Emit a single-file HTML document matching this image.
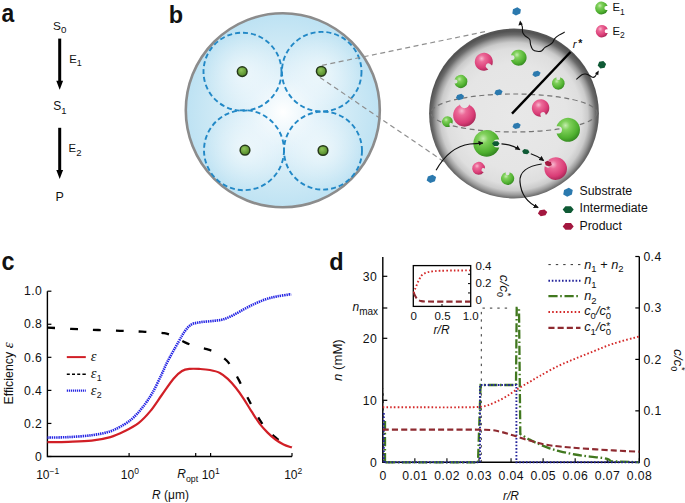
<!DOCTYPE html>
<html><head><meta charset="utf-8"><style>
html,body{margin:0;padding:0;background:#fff;width:685px;height:503px;overflow:hidden;}
svg{display:block;font-family:"Liberation Sans",sans-serif;}

</style></head><body>
<svg width="685" height="503" viewBox="0 0 685 503" font-family="Liberation Sans" fill="#111">
<defs>
 <radialGradient id="gBlue" cx="283" cy="112" r="98" gradientUnits="userSpaceOnUse">
  <stop offset="0" stop-color="#ffffff"/>
  <stop offset="0.35" stop-color="#e2f2fa"/>
  <stop offset="0.75" stop-color="#cbe8f5"/>
  <stop offset="1" stop-color="#bde2f3"/>
 </radialGradient>
 <radialGradient id="gCell">
  <stop offset="0" stop-color="#ffffff" stop-opacity="0.55"/>
  <stop offset="1" stop-color="#ffffff" stop-opacity="0"/>
 </radialGradient>
 <radialGradient id="gSphere" cx="514" cy="116.5" r="88" gradientUnits="userSpaceOnUse">
  <stop offset="0" stop-color="#e8e8e8"/>
  <stop offset="0.6" stop-color="#e5e5e5"/>
  <stop offset="0.77" stop-color="#dedede"/>
  <stop offset="0.84" stop-color="#cbcbcb"/>
  <stop offset="0.89" stop-color="#9c9c9c"/>
  <stop offset="0.93" stop-color="#6a6a6a"/>
  <stop offset="0.97" stop-color="#525252"/>
  <stop offset="1" stop-color="#575757"/>
 </radialGradient>
 <radialGradient id="gGreen" cx="0.38" cy="0.32" r="0.75">
  <stop offset="0" stop-color="#c6ecb0"/>
  <stop offset="0.25" stop-color="#7fd05a"/>
  <stop offset="0.7" stop-color="#4fb02f"/>
  <stop offset="1" stop-color="#2e7d1e"/>
 </radialGradient>
 <radialGradient id="gPink" cx="0.38" cy="0.32" r="0.75">
  <stop offset="0" stop-color="#f7b9cf"/>
  <stop offset="0.25" stop-color="#ec6a98"/>
  <stop offset="0.7" stop-color="#d93c76"/>
  <stop offset="1" stop-color="#9c2350"/>
 </radialGradient>
 <radialGradient id="gDot" cx="0.4" cy="0.35" r="0.7">
  <stop offset="0" stop-color="#8fc45a"/>
  <stop offset="1" stop-color="#4c8424"/>
 </radialGradient>
 <marker id="ah" viewBox="0 0 10 10" refX="9" refY="5" markerWidth="5" markerHeight="5" orient="auto-start-reverse" markerUnits="userSpaceOnUse">
  <path d="M0,0 L10,5 L0,10 z" fill="#111"/>
 </marker>
</defs>
<text transform="translate(1.6,22) scale(0.88,1)" font-size="26" font-weight="bold">a</text>
<text x="53" y="29.8" font-size="11.8" text-anchor="start" >S<tspan font-size="9.8" dy="3.6">0</tspan></text>
<text x="69.2" y="62.8" font-size="11.3" text-anchor="start" >E<tspan font-size="9" dy="3.6">1</tspan></text>
<text x="53.2" y="109.7" font-size="12" text-anchor="start" >S<tspan font-size="9.5" dy="4.2">1</tspan></text>
<text x="68.6" y="152.4" font-size="11.3" text-anchor="start" >E<tspan font-size="9.5" dy="3.6">2</tspan></text>
<text x="55.6" y="201.3" font-size="12.5" text-anchor="start" >P</text>
<line x1="59.7" y1="38.6" x2="59.7" y2="81.7" stroke="#000" stroke-width="3"/>
<path d="M56.3,80.7 L63.1,80.7 L59.7,89.7 z" fill="#000"/>
<line x1="59.7" y1="127.8" x2="59.7" y2="171" stroke="#000" stroke-width="3"/>
<path d="M56.3,170 L63.1,170 L59.7,179 z" fill="#000"/>
<text x="168.7" y="22.7" font-size="23.5" text-anchor="start" font-weight="bold">b</text>
<circle cx="282.8" cy="110.3" r="97" fill="url(#gBlue)" stroke="#8c8c8c" stroke-width="2.6"/>
<circle cx="242.5" cy="71.7" r="39" fill="url(#gCell)"/>
<circle cx="321.7" cy="71.7" r="39.8" fill="url(#gCell)"/>
<circle cx="244" cy="150.2" r="40" fill="url(#gCell)"/>
<circle cx="323" cy="150.6" r="39" fill="url(#gCell)"/>
<circle cx="242.5" cy="71.7" r="39" fill="none" stroke="#2288c6" stroke-width="1.9" stroke-dasharray="5 3"/>
<circle cx="321.7" cy="71.7" r="39.8" fill="none" stroke="#2288c6" stroke-width="1.9" stroke-dasharray="5 3"/>
<circle cx="244" cy="150.2" r="40" fill="none" stroke="#2288c6" stroke-width="1.9" stroke-dasharray="5 3"/>
<circle cx="323" cy="150.6" r="39" fill="none" stroke="#2288c6" stroke-width="1.9" stroke-dasharray="5 3"/>
<circle cx="242.2" cy="71.6" r="4.85" fill="url(#gDot)" stroke="#25381a" stroke-width="1.5"/>
<circle cx="321.3" cy="71.3" r="4.85" fill="url(#gDot)" stroke="#25381a" stroke-width="1.5"/>
<circle cx="245" cy="150.2" r="4.85" fill="url(#gDot)" stroke="#25381a" stroke-width="1.5"/>
<circle cx="323" cy="150.5" r="4.85" fill="url(#gDot)" stroke="#25381a" stroke-width="1.5"/>
<line x1="322" y1="65.4" x2="485.5" y2="31.5" stroke="#8f8f8f" stroke-width="1.2" stroke-dasharray="5 3.5"/>
<line x1="320" y1="77.5" x2="446" y2="163" stroke="#8f8f8f" stroke-width="1.2" stroke-dasharray="5 3.5"/>
<circle cx="514" cy="113.5" r="84.9" fill="url(#gSphere)"/>
<ellipse cx="514" cy="113" rx="83" ry="19" fill="none" stroke="#747474" stroke-width="1.2" stroke-dasharray="5 3.5"/>
<path d="M464.25,97.00 L462.12,99.68 L457.88,99.68 L455.75,97.00 L457.88,94.32 L462.12,94.32 z" fill="#2b79ae" transform="rotate(-15 460 97)"/>
<path d="M502.75,92.30 L500.62,94.98 L496.38,94.98 L494.25,92.30 L496.38,89.62 L500.62,89.62 z" fill="#2b79ae" transform="rotate(-15 498.5 92.3)"/>
<path d="M540.75,73.80 L538.62,76.48 L534.38,76.48 L532.25,73.80 L534.38,71.12 L538.62,71.12 z" fill="#2b79ae" transform="rotate(-15 536.5 73.8)"/>
<path d="M520.85,125.90 L518.73,128.58 L514.48,128.58 L512.35,125.90 L514.48,123.22 L518.73,123.22 z" fill="#2b79ae" transform="rotate(-15 516.6 125.9)"/>
<path d="M491.99,65.54 A9,9 0 1 0 488.37,69.55 L486.54,67.90 A2.70,2.70 0 0 1 490.15,63.89 Z" fill="url(#gPink)"/>
<path d="M454.50,83.48 A6.6,6.6 0 1 0 454.50,79.52 L455.52,79.52 A1.98,1.98 0 0 1 455.52,83.48 Z" fill="url(#gGreen)"/>
<path d="M459.71,104.95 A11.4,11.4 0 1 0 469.29,104.95 L469.29,103.44 A4.79,4.79 0 0 1 459.71,103.44 Z" fill="url(#gPink)"/>
<path d="M510.97,60.10 A8,8 0 1 0 510.97,55.30 L512.20,55.30 A2.40,2.40 0 0 1 512.20,60.10 Z" fill="url(#gGreen)"/>
<path d="M556.38,77.19 A6.4,6.4 0 1 0 560.22,77.19 L560.22,78.18 A1.92,1.92 0 0 1 556.38,78.18 Z" fill="url(#gGreen)"/>
<path d="M545.89,114.91 A8.7,8.7 0 1 0 540.99,116.69 L540.53,115.43 A2.61,2.61 0 0 1 545.43,113.65 Z" fill="url(#gPink)"/>
<path d="M452.39,123.77 A5.4,5.4 0 1 0 450.30,126.25 L449.67,125.72 A1.62,1.62 0 0 1 451.75,123.24 Z" fill="url(#gGreen)"/>
<path d="M556.55,133.40 A12,12 0 1 0 556.55,126.20 L558.40,126.20 A3.60,3.60 0 0 1 558.40,133.40 Z" fill="url(#gGreen)"/>
<path d="M499.29,139.41 A13.3,13.3 0 1 0 499.29,147.39 L497.24,147.39 A3.99,3.99 0 0 1 497.24,139.41 Z" fill="url(#gGreen)"/>
<path d="M484.99,168.58 A6.4,6.4 0 1 0 483.68,172.19 L482.75,171.86 A1.92,1.92 0 0 1 484.07,168.25 Z" fill="url(#gPink)"/>
<path d="M505.62,172.20 A6.6,6.6 0 1 0 509.58,172.20 L509.58,173.22 A1.98,1.98 0 0 1 505.62,173.22 Z" fill="url(#gGreen)"/>
<path d="M544.67,166.15 A11.3,11.3 0 1 0 548.06,160.27 L549.57,161.14 A3.39,3.39 0 0 1 546.18,167.02 Z" fill="url(#gPink)"/>
<path d="M499.55,143.60 L497.68,145.98 L493.93,145.98 L492.05,143.60 L493.93,141.22 L497.68,141.22 z" fill="#0f5a35" transform="rotate(0 495.8 143.6)"/>
<path d="M529.55,151.70 L527.67,154.08 L523.92,154.08 L522.05,151.70 L523.92,149.32 L527.67,149.32 z" fill="#0f5a35" transform="rotate(10 525.8 151.7)"/>
<path d="M552.05,163.60 L550.17,165.98 L546.42,165.98 L544.55,163.60 L546.42,161.22 L550.17,161.22 z" fill="#a3173f" transform="rotate(20 548.3 163.6)"/>
<line x1="512" y1="113.7" x2="570.5" y2="52" stroke="#000" stroke-width="2.4"/>
<text x="572.8" y="47.6" font-size="11.5" font-style="italic">r</text>
<text x="578.2" y="46.9" font-size="10.5" font-weight="bold">*</text>
<path d="M521.35,11.40 L518.98,14.86 L514.23,14.86 L511.85,11.40 L514.23,7.94 L518.98,7.94 z" fill="#2b79ae" transform="rotate(-25 516.6 11.4)"/>
<path d="M436.40,178.80 L433.90,182.26 L428.90,182.26 L426.40,178.80 L428.90,175.34 L433.90,175.34 z" fill="#2b79ae" transform="rotate(-20 431.4 178.8)"/>
<path d="M606.15,64.80 L604.02,68.18 L599.77,68.18 L597.65,64.80 L599.77,61.42 L604.02,61.42 z" fill="#0f5a35" transform="rotate(-10 601.9 64.8)"/>
<path d="M547.35,212.80 L544.98,215.83 L540.23,215.83 L537.85,212.80 L540.23,209.77 L544.98,209.77 z" fill="#a3173f" transform="rotate(-10 542.6 212.8)"/>
<path d="M520.60,23.50 C520.88,24.02 521.95,25.10 522.30,26.60 C522.65,28.10 522.20,30.93 522.70,32.50 C523.20,34.07 524.13,34.83 525.30,36.00 C526.47,37.17 528.82,38.03 529.70,39.50 C530.58,40.97 530.08,43.12 530.60,44.80 C531.12,46.48 531.72,48.52 532.80,49.60 C533.88,50.68 535.65,51.08 537.10,51.30 C538.55,51.52 540.18,51.55 541.50,50.90 C542.82,50.25 543.62,48.42 545.00,47.40 C546.38,46.38 548.48,45.68 549.80,44.80 C551.12,43.92 552.08,43.13 552.90,42.10 C553.72,41.07 553.68,39.77 554.70,38.60 C555.72,37.43 557.33,36.18 559.00,35.10 C560.67,34.02 563.75,32.60 564.70,32.10" fill="none" stroke="#111" stroke-width="1.1"/>
<path d="M520.1,20.6 L518.4,25.4 L522.8,24.6 z" fill="#111"/>
<path d="M576.30,79.40 C577.23,78.62 580.37,75.60 581.90,74.70 C583.43,73.80 584.30,73.90 585.50,74.00 C586.70,74.10 587.92,74.75 589.10,75.30 C590.28,75.85 591.62,77.10 592.60,77.30 C593.58,77.50 594.32,77.13 595.00,76.50 C595.68,75.87 596.42,74.00 596.70,73.50" fill="none" stroke="#111" stroke-width="1.1"/>
<path d="M598.8,70.6 L595,73.2 L598.2,75.2 z" fill="#111"/>
<path d="M436.1,170.3 C444,156 456,146 470,144 C475,143.5 479,143.3 483,143.1" fill="none" stroke="#111" stroke-width="1.2" marker-end="url(#ah)"/>
<path d="M501.5,143.8 C508,144 514,146 519.9,149.7" fill="none" stroke="#111" stroke-width="1.2" marker-end="url(#ah)"/>
<path d="M530.8,153.7 C535,155 539,157 543.7,160.6" fill="none" stroke="#111" stroke-width="1.2" marker-end="url(#ah)"/>
<path d="M541.7,164 C528,166 519,172 520,182 C521,195 528,203 538.2,207.6" fill="none" stroke="#111" stroke-width="1.2" marker-end="url(#ah)"/>
<path d="M607.61,6.08 A6.4,6.4 0 1 0 607.61,9.92 L606.30,9.92 A1.92,1.92 0 0 1 606.30,6.08 Z" fill="url(#gGreen)"/>
<path d="M607.81,29.34 A6.2,6.2 0 1 0 607.81,33.06 L606.55,33.06 A1.86,1.86 0 0 1 606.55,29.34 Z" fill="url(#gPink)"/>
<text x="612.5" y="11" font-size="11.3" text-anchor="start" >E<tspan font-size="8.5" dy="3.5">1</tspan></text>
<text x="612.5" y="34.7" font-size="11.3" text-anchor="start" >E<tspan font-size="8.5" dy="3.5">2</tspan></text>
<path d="M573.25,192.30 L570.62,195.98 L565.38,195.98 L562.75,192.30 L565.38,188.62 L570.62,188.62 z" fill="#2b79ae" transform="rotate(-25 568 192.3)"/>
<path d="M573.70,209.60 L570.95,213.06 L565.45,213.06 L562.70,209.60 L565.45,206.14 L570.95,206.14 z" fill="#0f5a35" transform="rotate(0 568.2 209.6)"/>
<path d="M573.70,226.40 L570.95,229.86 L565.45,229.86 L562.70,226.40 L565.45,222.94 L570.95,222.94 z" fill="#a3173f" transform="rotate(0 568.2 226.4)"/>
<text x="579.5" y="195.2" font-size="12.3" text-anchor="start" >Substrate</text>
<text x="579.5" y="212.4" font-size="12.3" text-anchor="start" >Intermediate</text>
<text x="579.5" y="230" font-size="12.3" text-anchor="start" >Product</text>
<text transform="translate(1.6,270) scale(0.9,1)" font-size="26" font-weight="bold">c</text>
<path d="M47.4,291.2 L47.4,456.5 L292,456.5" fill="none" stroke="#000" stroke-width="1.4"/>
<line x1="47.4" y1="456.50" x2="51.4" y2="456.50" stroke="#000" stroke-width="1.2"/>
<text x="42.3" y="460.70" font-size="12.2" text-anchor="end" letter-spacing="0.45">0</text>
<line x1="47.4" y1="423.44" x2="51.4" y2="423.44" stroke="#000" stroke-width="1.2"/>
<text x="42.3" y="427.64" font-size="12.2" text-anchor="end" letter-spacing="0.45">0.2</text>
<line x1="47.4" y1="390.38" x2="51.4" y2="390.38" stroke="#000" stroke-width="1.2"/>
<text x="42.3" y="394.58" font-size="12.2" text-anchor="end" letter-spacing="0.45">0.4</text>
<line x1="47.4" y1="357.32" x2="51.4" y2="357.32" stroke="#000" stroke-width="1.2"/>
<text x="42.3" y="361.52" font-size="12.2" text-anchor="end" letter-spacing="0.45">0.6</text>
<line x1="47.4" y1="324.26" x2="51.4" y2="324.26" stroke="#000" stroke-width="1.2"/>
<text x="42.3" y="328.46" font-size="12.2" text-anchor="end" letter-spacing="0.45">0.8</text>
<line x1="47.4" y1="291.20" x2="51.4" y2="291.20" stroke="#000" stroke-width="1.2"/>
<text x="42.3" y="295.40" font-size="12.2" text-anchor="end" letter-spacing="0.45">1.0</text>
<line x1="129.1" y1="456.5" x2="129.1" y2="453.0" stroke="#000" stroke-width="1.2"/>
<line x1="195.7" y1="456.5" x2="195.7" y2="453.0" stroke="#000" stroke-width="1.2"/>
<line x1="210.6" y1="456.5" x2="210.6" y2="453.0" stroke="#000" stroke-width="1.2"/>
<line x1="292" y1="456.5" x2="292" y2="453.0" stroke="#000" stroke-width="1.2"/>
<text x="36.2" y="479" font-size="12">10<tspan font-size="8.5" dy="-5.5">−1</tspan></text>
<text x="120.8" y="479" font-size="12">10<tspan font-size="8.5" dy="-5.5">0</tspan></text>
<text x="201.7" y="479" font-size="12">10<tspan font-size="8.5" dy="-5.5">1</tspan></text>
<text x="284.2" y="479" font-size="12">10<tspan font-size="8.5" dy="-5.5">2</tspan></text>
<text x="177.3" y="478.3" font-size="12" font-style="italic">R<tspan font-style="normal" font-size="8.8" dy="3.6">opt</tspan></text>
<text x="152" y="498.6" font-size="12"><tspan font-style="italic">R</tspan> (μm)</text>
<text transform="translate(12.9,404.6) rotate(-90)" font-size="12.4">Efficiency <tspan font-family="Liberation Serif" font-style="italic" font-size="15">ε</tspan></text>
<path d="M47.40,327.60 C52.83,327.88 67.90,328.77 80.00,329.30 C92.10,329.83 109.17,330.38 120.00,330.80 C130.83,331.22 137.63,331.40 145.00,331.80 C152.37,332.20 159.20,332.33 164.20,333.20 C169.20,334.07 171.53,335.47 175.00,337.00 C178.47,338.53 181.50,340.82 185.00,342.40 C188.50,343.98 192.35,345.37 196.00,346.50 C199.65,347.63 203.40,348.12 206.90,349.20 C210.40,350.28 213.72,351.12 217.00,353.00 C220.28,354.88 224.10,358.00 226.60,360.50 C229.10,363.00 229.97,364.77 232.00,368.00 C234.03,371.23 236.02,374.60 238.80,379.90 C241.58,385.20 245.23,393.18 248.70,399.80 C252.17,406.42 256.55,414.65 259.60,419.60 C262.65,424.55 264.35,426.52 267.00,429.50 C269.65,432.48 272.75,435.17 275.50,437.50 C278.25,439.83 280.78,441.92 283.50,443.50 C286.22,445.08 290.42,446.42 291.80,447.00" fill="none" stroke="#000" stroke-width="2.3" stroke-dasharray="7.8 15"/>
<path d="M47.40,442.20 C50.90,442.13 61.02,442.07 68.40,441.80 C75.78,441.53 84.70,441.38 91.70,440.60 C98.70,439.82 104.95,438.65 110.40,437.10 C115.85,435.55 119.72,433.63 124.40,431.30 C129.08,428.97 134.22,426.42 138.50,423.10 C142.78,419.78 146.22,416.08 150.10,411.40 C153.98,406.72 157.90,400.45 161.80,395.00 C165.70,389.55 170.13,382.70 173.50,378.70 C176.87,374.70 179.27,372.63 182.00,371.00 C184.73,369.37 186.90,369.23 189.90,368.90 C192.90,368.57 196.67,368.82 200.00,369.00 C203.33,369.18 206.58,369.35 209.90,370.00 C213.22,370.65 216.92,371.42 219.90,372.90 C222.88,374.38 225.15,376.42 227.80,378.90 C230.45,381.38 233.15,384.48 235.80,387.80 C238.45,391.12 241.05,394.82 243.70,398.80 C246.35,402.78 249.05,407.57 251.70,411.70 C254.35,415.83 256.95,420.12 259.60,423.60 C262.25,427.08 264.95,429.95 267.60,432.60 C270.25,435.25 272.85,437.52 275.50,439.50 C278.15,441.48 280.78,443.17 283.50,444.50 C286.22,445.83 290.42,447.00 291.80,447.50" fill="none" stroke="#d11f26" stroke-width="2.2"/>
<path d="M47.40,437.60 C50.90,437.52 61.02,437.50 68.40,437.10 C75.78,436.70 84.70,436.17 91.70,435.20 C98.70,434.23 104.95,433.12 110.40,431.30 C115.85,429.48 120.50,426.65 124.40,424.30 C128.30,421.95 130.68,420.13 133.80,417.20 C136.92,414.27 139.98,410.78 143.10,406.70 C146.22,402.62 149.38,398.15 152.50,392.70 C155.62,387.25 159.30,379.18 161.80,374.00 C164.30,368.82 164.72,366.95 167.50,361.60 C170.28,356.25 175.58,347.00 178.50,341.90 C181.42,336.80 182.82,333.92 185.00,331.00 C187.18,328.08 189.03,325.87 191.60,324.40 C194.17,322.93 197.12,322.75 200.40,322.20 C203.68,321.65 207.65,321.53 211.30,321.10 C214.95,320.67 218.65,320.58 222.30,319.60 C225.95,318.62 229.55,316.95 233.20,315.20 C236.85,313.45 240.55,311.03 244.20,309.10 C247.85,307.17 251.47,305.25 255.10,303.60 C258.73,301.95 262.35,300.40 266.00,299.20 C269.65,298.00 272.80,297.23 277.00,296.40 C281.20,295.57 288.83,294.57 291.20,294.20" fill="none" stroke="#2424e4" stroke-width="2.6" stroke-dasharray="1.4 0.8"/>
<line x1="66.8" y1="357.1" x2="85.8" y2="357.1" stroke="#d11f26" stroke-width="2"/>
<line x1="66.8" y1="374.2" x2="85.8" y2="374.2" stroke="#000" stroke-width="1.6" stroke-dasharray="3 2.2 3 2.2 3 2.2 4.4"/>
<line x1="66.8" y1="390.7" x2="85.8" y2="390.7" stroke="#2424e4" stroke-width="2.2" stroke-dasharray="1.2 0.8"/>
<text x="90.8" y="361.0" font-size="14.5" font-family="Liberation Serif" font-style="italic">ε</text>
<text x="90.8" y="378.0" font-size="14.5" font-family="Liberation Serif" font-style="italic">ε<tspan font-family="Liberation Sans" font-style="normal" font-size="8.8" dy="3.2" dx="0.3">1</tspan></text>
<text x="90.8" y="394.9" font-size="14.5" font-family="Liberation Serif" font-style="italic">ε<tspan font-family="Liberation Sans" font-style="normal" font-size="8.8" dy="3.2" dx="0.3">2</tspan></text>
<text x="329.2" y="269.6" font-size="23.5" text-anchor="start" font-weight="bold">d</text>
<path d="M382.8,257 L382.8,462.3 L639.3,462.3 L639.3,256.4" fill="none" stroke="#000" stroke-width="1.4"/>
<line x1="382.8" y1="462.30" x2="387.3" y2="462.30" stroke="#000" stroke-width="1.2"/>
<text x="377.3" y="467.30" font-size="12.2" text-anchor="end" letter-spacing="0.45">0</text>
<line x1="382.8" y1="400.30" x2="387.3" y2="400.30" stroke="#000" stroke-width="1.2"/>
<text x="377.3" y="405.30" font-size="12.2" text-anchor="end" letter-spacing="0.45">10</text>
<line x1="382.8" y1="338.30" x2="387.3" y2="338.30" stroke="#000" stroke-width="1.2"/>
<text x="377.3" y="343.30" font-size="12.2" text-anchor="end" letter-spacing="0.45">20</text>
<line x1="382.8" y1="276.30" x2="387.3" y2="276.30" stroke="#000" stroke-width="1.2"/>
<text x="377.3" y="281.30" font-size="12.2" text-anchor="end" letter-spacing="0.45">30</text>
<line x1="382.8" y1="308" x2="387.3" y2="308" stroke="#000" stroke-width="1.2"/>
<text x="352.5" y="311.3" font-size="12"><tspan font-style="italic">n</tspan><tspan font-size="10" dy="3.8">max</tspan></text>
<line x1="635.3" y1="462.30" x2="639.3" y2="462.30" stroke="#000" stroke-width="1.2"/>
<text x="643.4" y="466.60" font-size="12.2" text-anchor="start" letter-spacing="0.45">0</text>
<line x1="635.3" y1="410.85" x2="639.3" y2="410.85" stroke="#000" stroke-width="1.2"/>
<text x="643.4" y="415.15" font-size="12.2" text-anchor="start" letter-spacing="0.45">0.1</text>
<line x1="635.3" y1="359.40" x2="639.3" y2="359.40" stroke="#000" stroke-width="1.2"/>
<text x="643.4" y="363.70" font-size="12.2" text-anchor="start" letter-spacing="0.45">0.2</text>
<line x1="635.3" y1="307.95" x2="639.3" y2="307.95" stroke="#000" stroke-width="1.2"/>
<text x="643.4" y="312.25" font-size="12.2" text-anchor="start" letter-spacing="0.45">0.3</text>
<line x1="635.3" y1="256.50" x2="639.3" y2="256.50" stroke="#000" stroke-width="1.2"/>
<text x="643.4" y="260.80" font-size="12.2" text-anchor="start" letter-spacing="0.45">0.4</text>
<line x1="414.86" y1="462.3" x2="414.86" y2="458.3" stroke="#000" stroke-width="1.1"/>
<line x1="446.93" y1="462.3" x2="446.93" y2="458.3" stroke="#000" stroke-width="1.1"/>
<line x1="478.99" y1="462.3" x2="478.99" y2="458.3" stroke="#000" stroke-width="1.1"/>
<line x1="511.05" y1="462.3" x2="511.05" y2="458.3" stroke="#000" stroke-width="1.1"/>
<line x1="543.11" y1="462.3" x2="543.11" y2="458.3" stroke="#000" stroke-width="1.1"/>
<line x1="575.17" y1="462.3" x2="575.17" y2="458.3" stroke="#000" stroke-width="1.1"/>
<line x1="607.24" y1="462.3" x2="607.24" y2="458.3" stroke="#000" stroke-width="1.1"/>
<line x1="639.30" y1="462.3" x2="639.30" y2="458.3" stroke="#000" stroke-width="1.1"/>
<text x="383.00" y="479.6" font-size="12.2" text-anchor="middle" letter-spacing="0.45">0</text>
<text x="415.06" y="479.6" font-size="12.2" text-anchor="middle" letter-spacing="0.45">0.01</text>
<text x="447.12" y="479.6" font-size="12.2" text-anchor="middle" letter-spacing="0.45">0.02</text>
<text x="479.19" y="479.6" font-size="12.2" text-anchor="middle" letter-spacing="0.45">0.03</text>
<text x="511.25" y="479.6" font-size="12.2" text-anchor="middle" letter-spacing="0.45">0.04</text>
<text x="543.31" y="479.6" font-size="12.2" text-anchor="middle" letter-spacing="0.45">0.05</text>
<text x="575.38" y="479.6" font-size="12.2" text-anchor="middle" letter-spacing="0.45">0.06</text>
<text x="607.44" y="479.6" font-size="12.2" text-anchor="middle" letter-spacing="0.45">0.07</text>
<text x="639.50" y="479.6" font-size="12.2" text-anchor="middle" letter-spacing="0.45">0.08</text>
<text x="503" y="499.6" font-size="12" font-style="italic">r/R</text>
<text transform="translate(341.6,381) rotate(-90)" font-size="13.2"><tspan font-style="italic">n</tspan> (mM)</text>
<text transform="translate(673.8,349.0) rotate(90)" font-size="13.5" font-style="italic">c/c<tspan font-style="normal" font-size="9" dy="3.1">0</tspan><tspan font-style="normal" font-size="9.5" dx="-4.4" dy="-8">*</tspan></text>
<path d="M383.40000000000003,462.3 L383.40000000000003,388 M481.3,462.3 L481.3,308.1 L512,308.1" fill="none" stroke="#333" stroke-width="1" stroke-dasharray="2.4 5"/>
<path d="M385.0,462.3 L385.0,421 M385.8,462.3 L478,462.3 L480.6,385 L516,385 L516.7,308 L519,308 L520.3,434 C521.85,434.93 526.38,437.87 529.60,439.60 C532.82,441.33 536.28,442.95 539.60,444.40 C542.92,445.85 546.10,447.15 549.50,448.30 C552.90,449.45 555.75,450.27 560.00,451.30 C564.25,452.33 570.00,453.62 575.00,454.50 C580.00,455.38 584.75,455.92 590.00,456.60 C595.25,457.28 603.00,457.83 606.50,458.60 C610.00,459.37 610.25,460.77 611.00,461.20 L639.3,462.3" fill="none" stroke="#41781f" stroke-width="2.3" stroke-dasharray="9.2 2.6 1.6 2.7"/>
<path d="M383.8,462.3 L383.8,412 M384.8,462.3 L480,462.3 L480,385 L516.4,385 L516.4,462.3 L639.3,462.3" fill="none" stroke="#23239a" stroke-width="1.9" stroke-dasharray="1.6 1.8"/>
<path d="M382.80,429.60 C392.33,429.60 422.97,429.57 440.00,429.60 C457.03,429.63 475.03,429.47 485.00,429.80 C494.97,430.13 495.02,430.63 499.80,431.60 C504.58,432.57 508.73,434.10 513.70,435.60 C518.67,437.10 524.30,439.10 529.60,440.60 C534.90,442.10 540.43,443.62 545.50,444.60 C550.57,445.58 554.85,445.93 560.00,446.50 C565.15,447.07 567.60,447.35 576.40,448.00 C585.20,448.65 602.32,449.78 612.80,450.40 C623.28,451.02 634.88,451.48 639.30,451.70" fill="none" stroke="#8e2a30" stroke-width="2.1" stroke-dasharray="6.1 3.1"/>
<path d="M382.80,407.30 C389.00,407.30 407.13,407.30 420.00,407.30 C432.87,407.30 449.68,407.42 460.00,407.30 C470.32,407.18 476.25,407.35 481.90,406.60 C487.55,405.85 489.92,404.43 493.90,402.80 C497.88,401.17 501.83,399.12 505.80,396.80 C509.77,394.48 513.73,391.38 517.70,388.90 C521.67,386.42 525.88,384.08 529.60,381.90 C533.32,379.72 535.23,378.45 540.00,375.80 C544.77,373.15 552.13,368.93 558.20,366.00 C564.27,363.07 570.33,360.72 576.40,358.20 C582.47,355.68 588.53,353.30 594.60,350.90 C600.67,348.50 605.35,346.22 612.80,343.80 C620.25,341.38 634.88,337.63 639.30,336.40" fill="none" stroke="#d42a2a" stroke-width="1.9" stroke-dasharray="1.6 2.15"/>
<rect x="413.3" y="265.6" width="57.4" height="40.8" fill="none" stroke="#000" stroke-width="1.3"/>
<line x1="470.7" y1="292.95" x2="468" y2="292.95" stroke="#000" stroke-width="1"/>
<line x1="470.7" y1="283.60" x2="468" y2="283.60" stroke="#000" stroke-width="1"/>
<line x1="470.7" y1="274.25" x2="468" y2="274.25" stroke="#000" stroke-width="1"/>
<line x1="442" y1="306.4" x2="442" y2="304" stroke="#000" stroke-width="1"/>
<text x="475.5" y="269.8" font-size="11.5" text-anchor="start" >0.4</text>
<text x="475.5" y="287.3" font-size="11.5" text-anchor="start" >0.2</text>
<text x="475.5" y="304.3" font-size="11.5" text-anchor="start" >0</text>
<text x="413.8" y="319.5" font-size="11.5" text-anchor="middle" >0</text>
<text x="442.6" y="319.5" font-size="11.5" text-anchor="middle" >0.5</text>
<text x="470.7" y="319.5" font-size="11.5" text-anchor="middle" >1.0</text>
<text x="433.6" y="334.4" font-size="12" font-style="italic">r/R</text>
<text transform="translate(500.3,274.8) rotate(90)" font-size="13.5" font-style="italic">c/c<tspan font-style="normal" font-size="9" dy="3.1">0</tspan><tspan font-style="normal" font-size="9.5" dx="-4.4" dy="-8">*</tspan></text>
<path d="M413.80,293.00 C413.97,292.50 414.43,291.00 414.80,290.00 C415.17,289.00 415.55,288.17 416.00,287.00 C416.45,285.83 416.92,284.33 417.50,283.00 C418.08,281.67 418.85,280.22 419.50,279.00 C420.15,277.78 420.57,276.63 421.40,275.70 C422.23,274.77 423.40,274.00 424.50,273.40 C425.60,272.80 426.68,272.43 428.00,272.10 C429.32,271.77 430.40,271.62 432.40,271.40 C434.40,271.18 436.23,270.95 440.00,270.80 C443.77,270.65 450.00,270.57 455.00,270.50 C460.00,270.43 467.50,270.42 470.00,270.40" fill="none" stroke="#d42a2a" stroke-width="1.9" stroke-dasharray="1.6 2.15"/>
<path d="M413.80,293.00 C414.05,293.53 414.77,295.22 415.30,296.20 C415.83,297.18 416.38,298.22 417.00,298.90 C417.62,299.58 418.27,299.93 419.00,300.30 C419.73,300.67 420.23,300.90 421.40,301.10 C422.57,301.30 423.73,301.42 426.00,301.50 C428.27,301.58 427.67,301.58 435.00,301.60 C442.33,301.62 464.17,301.60 470.00,301.60" fill="none" stroke="#8e2a30" stroke-width="2.1" stroke-dasharray="6.1 3.1"/>
<line x1="548.4" y1="264.6" x2="580.5" y2="264.6" stroke="#333" stroke-width="1" stroke-dasharray="2.4 5"/>
<line x1="548.4" y1="280.7" x2="580.5" y2="280.7" stroke="#23239a" stroke-width="1.9" stroke-dasharray="1.6 1.8"/>
<line x1="548.4" y1="296.2" x2="580.5" y2="296.2" stroke="#41781f" stroke-width="2.3" stroke-dasharray="9.2 2.6 1.6 2.7"/>
<line x1="548.4" y1="312" x2="580.5" y2="312" stroke="#d42a2a" stroke-width="1.9" stroke-dasharray="1.6 2.15"/>
<line x1="548.4" y1="327.9" x2="580.5" y2="327.9" stroke="#8e2a30" stroke-width="2.1" stroke-dasharray="6.1 3.1"/>
<text x="584.2" y="268.6" font-size="12.8"><tspan font-style="italic">n</tspan><tspan font-size="9.5" dy="3.8">1</tspan><tspan dy="-3.8"> + </tspan><tspan font-style="italic">n</tspan><tspan font-size="9.5" dy="3.8">2</tspan></text>
<text x="584.2" y="283.8" font-size="12.8"><tspan font-style="italic">n</tspan><tspan font-size="9.5" dy="3.8">1</tspan></text>
<text x="584.2" y="299.9" font-size="12.8"><tspan font-style="italic">n</tspan><tspan font-size="9.5" dy="3.8">2</tspan></text>
<text x="584.2" y="315.1" font-size="12.8"><tspan font-style="italic">c</tspan><tspan font-size="9.5" dy="3.8">0</tspan><tspan dy="-3.8" font-style="italic">/c</tspan><tspan font-size="9.5" dy="3.8">0</tspan><tspan font-size="10" dx="-4.8" dy="-4.9">*</tspan></text>
<text x="584.2" y="331.1" font-size="12.8"><tspan font-style="italic">c</tspan><tspan font-size="9.5" dy="3.8">1</tspan><tspan dy="-3.8" font-style="italic">/c</tspan><tspan font-size="9.5" dy="3.8">0</tspan><tspan font-size="10" dx="-4.8" dy="-4.9">*</tspan></text></svg>
</body></html>
